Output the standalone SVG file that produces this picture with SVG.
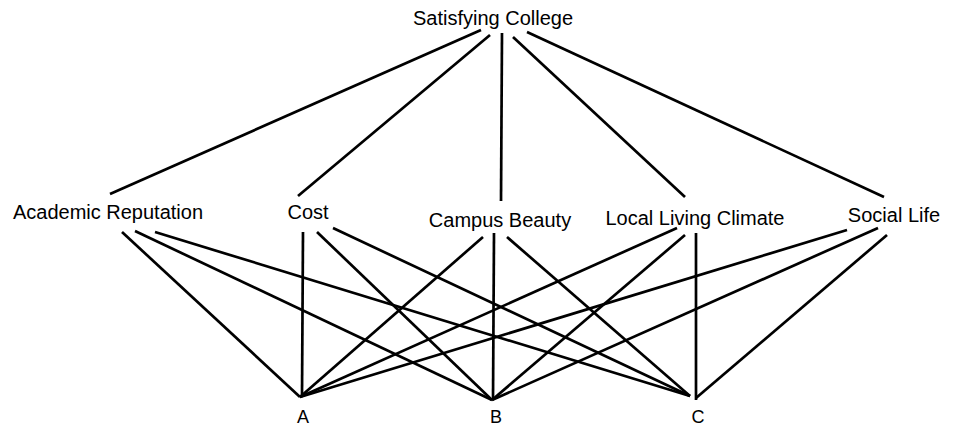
<svg xmlns="http://www.w3.org/2000/svg" width="955" height="438" viewBox="0 0 955 438">
<style>
text{font-family:"Liberation Sans",Arial,sans-serif;font-size:20px;fill:#000;text-anchor:middle}
.alt{font-size:18px}
#edges line{stroke:#000;stroke-width:2.7;stroke-linecap:butt}
</style>
<rect width="955" height="438" fill="#fff"/>
<g id="edges">
<line x1="481" y1="30" x2="110" y2="194"/>
<line x1="490" y1="35" x2="298" y2="196"/>
<line x1="502" y1="33" x2="501" y2="201"/>
<line x1="513" y1="37" x2="685" y2="197"/>
<line x1="527" y1="32" x2="884" y2="197"/>
<line x1="122" y1="232" x2="300" y2="397"/>
<line x1="135" y1="231" x2="492" y2="400"/>
<line x1="155" y1="232" x2="690" y2="396"/>
<line x1="303" y1="232" x2="302" y2="397"/>
<line x1="317" y1="232" x2="492" y2="400"/>
<line x1="333" y1="228" x2="690" y2="396"/>
<line x1="483" y1="237" x2="300" y2="397"/>
<line x1="494" y1="233" x2="493" y2="400"/>
<line x1="507" y1="237" x2="690" y2="396"/>
<line x1="677" y1="228" x2="300" y2="397"/>
<line x1="685" y1="235" x2="492" y2="400"/>
<line x1="696" y1="233" x2="696" y2="400"/>
<line x1="847" y1="230" x2="300" y2="397"/>
<line x1="878" y1="228" x2="492" y2="400"/>
<line x1="887" y1="235" x2="696" y2="398"/>
</g>
<g id="goal"><text x="493" y="25">Satisfying College</text></g>
<g id="academic"><text x="108" y="219">Academic Reputation</text></g>
<g id="cost"><text x="308" y="219">Cost</text></g>
<g id="campus"><text x="500" y="227">Campus Beauty</text></g>
<g id="climate"><text x="695" y="225">Local Living Climate</text></g>
<g id="social"><text x="894" y="222">Social Life</text></g>
<g id="a"><text class="alt" x="303" y="423">A</text></g>
<g id="b"><text class="alt" x="496" y="423">B</text></g>
<g id="c"><text class="alt" x="698" y="423">C</text></g>
</svg>
